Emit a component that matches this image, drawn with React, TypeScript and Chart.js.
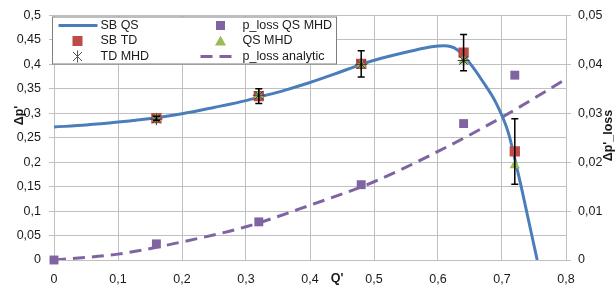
import React, { useEffect, useRef } from "react";
import { Chart, registerables } from "chart.js";

Chart.register(...registerables);

// SB QS curve (left axis)
const sbQsX = [0, 0.05, 0.1, 0.16, 0.2, 0.25, 0.3, 0.32, 0.36, 0.4, 0.44, 0.48, 0.51, 0.56, 0.59, 0.61, 0.63, 0.65, 0.67, 0.69, 0.71, 0.72, 0.73, 0.74, 0.755];
const sbQsY = [0.272, 0.276, 0.282, 0.291, 0.299, 0.312, 0.326, 0.333, 0.347, 0.363, 0.381, 0.4, 0.412, 0.428, 0.436, 0.438, 0.43, 0.402, 0.365, 0.323, 0.26, 0.207, 0.15, 0.09, 0];

// SB TD markers with error bars (left axis)
const sbTdX = [0.16, 0.32, 0.48, 0.64, 0.72];
const sbTdY = [0.29, 0.335, 0.401, 0.424, 0.222];
const sbTdErr = [0.004, 0.015, 0.027, 0.037, 0.067];

// TD MHD (left axis)
const tdMhdX = [0.16, 0.32, 0.48, 0.64];
const tdMhdY = [0.288, 0.337, 0.4, 0.408];

// QS MHD (left axis)
const qsMhdX = [0.16, 0.32, 0.48, 0.64, 0.72];
const qsMhdY = [0.29, 0.337, 0.4, 0.408, 0.194];

// p_loss QS MHD (right axis)
const pLossX = [0, 0.16, 0.32, 0.48, 0.64, 0.72];
const pLossY = [0, 0.0033, 0.0078, 0.0154, 0.0279, 0.0378];

// p_loss analytic (right axis)
const pAnaX = [0, 0.1, 0.2, 0.3, 0.4, 0.5, 0.6, 0.7, 0.8];
const pAnaY = [0, 0.0012, 0.0037, 0.0068, 0.0112, 0.016, 0.0222, 0.0292, 0.037];

const legendLabels = ["SB QS", "SB TD", "TD MHD", "p_loss QS MHD", "QS MHD", "p_loss analytic"];
const xTitle = "Q'";
const yTitle = "Δp'";
const y2Title = "Δp'_loss";

const BLUE = "#4A7EBB";
const RED = "#BE4B48";
const GREEN = "#9BBB59";
const PURPLE = "#8064A2";
const STAR = "#3a3a3a";
const GRID = "#c0c0c0";
const TEXT = "#1a1a1a";
const FAMILY = "'Liberation Sans', Arial, sans-serif";

const fmt = (v: number | string) => String(parseFloat(Number(v).toFixed(4))).replace(".", ",");
const zip = (xs: number[], ys: number[]) => xs.map((x, i) => ({ x, y: ys[i] }));

export default function App() {
  const ref = useRef<HTMLCanvasElement>(null);

  useEffect(() => {
    const canvas = ref.current;
    if (!canvas) return;

    const overlay = {
      id: "overlay",
      afterDatasetsDraw(chart: any) {
        const ctx = chart.ctx;
        const xs = chart.scales.x;
        const ys = chart.scales.y;
        ctx.save();
        ctx.strokeStyle = "#000";
        ctx.lineWidth = 1.5;
        sbTdX.forEach((xv, i) => {
          const px = xs.getPixelForValue(xv);
          const top = ys.getPixelForValue(sbTdY[i] + sbTdErr[i]);
          const bot = ys.getPixelForValue(sbTdY[i] - sbTdErr[i]);
          ctx.beginPath();
          ctx.moveTo(px, top);
          ctx.lineTo(px, bot);
          ctx.moveTo(px - 3.5, top);
          ctx.lineTo(px + 3.5, top);
          ctx.moveTo(px - 3.5, bot);
          ctx.lineTo(px + 3.5, bot);
          ctx.stroke();
        });
        ctx.restore();
      },
      afterDraw(chart: any) {
        const ctx = chart.ctx;
        const a = chart.chartArea;
        ctx.save();
        // legend box
        const bx = a.left - 1.5;
        const by = a.top + 1.5;
        ctx.fillStyle = "#fff";
        ctx.strokeStyle = "#7f7f7f";
        ctx.lineWidth = 1;
        ctx.fillRect(bx, by, 284, 47);
        ctx.strokeRect(bx, by, 284, 47);
        const rows = [by + 8.5, by + 24, by + 39.5];
        const c1 = bx + 25;
        const c2 = bx + 168;
        // SB QS line sample
        ctx.strokeStyle = BLUE;
        ctx.lineWidth = 3;
        ctx.beginPath();
        ctx.moveTo(bx + 6, rows[0]);
        ctx.lineTo(bx + 45, rows[0]);
        ctx.stroke();
        // SB TD square
        ctx.fillStyle = RED;
        ctx.fillRect(c1 - 5, rows[1] - 5, 10, 10);
        // TD MHD star
        ctx.strokeStyle = "#555";
        ctx.lineWidth = 1;
        ctx.beginPath();
        const r = 6;
        ctx.moveTo(c1, rows[2] - r);
        ctx.lineTo(c1, rows[2] + r);
        const d = r * 0.75;
        ctx.moveTo(c1 - d, rows[2] - d);
        ctx.lineTo(c1 + d, rows[2] + d);
        ctx.moveTo(c1 - d, rows[2] + d);
        ctx.lineTo(c1 + d, rows[2] - d);
        ctx.stroke();
        // p_loss QS MHD square
        ctx.fillStyle = PURPLE;
        ctx.fillRect(c2 - 4.5, rows[0] - 4.5, 9, 9);
        // QS MHD triangle
        ctx.fillStyle = GREEN;
        ctx.beginPath();
        ctx.moveTo(c2, rows[1] - 5.5);
        ctx.lineTo(c2 + 5.5, rows[1] + 4.5);
        ctx.lineTo(c2 - 5.5, rows[1] + 4.5);
        ctx.closePath();
        ctx.fill();
        // analytic dash
        ctx.strokeStyle = PURPLE;
        ctx.lineWidth = 3;
        ctx.setLineDash([12, 7]);
        ctx.beginPath();
        ctx.moveTo(c2 - 20, rows[2]);
        ctx.lineTo(c2 + 12, rows[2]);
        ctx.stroke();
        ctx.setLineDash([]);
        // legend texts
        ctx.fillStyle = TEXT;
        ctx.font = `12.5px ${FAMILY}`;
        ctx.textBaseline = "middle";
        ctx.textAlign = "left";
        ctx.fillText(legendLabels[0], bx + 48, rows[0]);
        ctx.fillText(legendLabels[1], bx + 48, rows[1]);
        ctx.fillText(legendLabels[2], bx + 48, rows[2]);
        ctx.fillText(legendLabels[3], bx + 190, rows[0]);
        ctx.fillText(legendLabels[4], bx + 190, rows[1]);
        ctx.fillText(legendLabels[5], bx + 190, rows[2]);
        // axis titles
        ctx.font = `bold 12.5px ${FAMILY}`;
        ctx.textAlign = "center";
        ctx.fillText(xTitle, a.left + 283, a.bottom + 19);
        ctx.save();
        ctx.translate(20, a.top + 100);
        ctx.rotate(-Math.PI / 2);
        ctx.fillText(yTitle, 0, 0);
        ctx.restore();
        ctx.save();
        ctx.translate(a.right + 43, a.top + 120);
        ctx.rotate(-Math.PI / 2);
        ctx.fillText(y2Title, 0, 0);
        ctx.restore();
        ctx.restore();
      },
    };

    const tickFont = { family: FAMILY, size: 12.5 };

    const chart = new Chart(canvas, {
      type: "scatter",
      data: {
        datasets: [
          {
            label: legendLabels[5],
            data: zip(pAnaX, pAnaY),
            yAxisID: "y2",
            showLine: true,
            borderColor: PURPLE,
            borderWidth: 3,
            borderDash: [12, 7],
            pointRadius: 0,
            cubicInterpolationMode: "monotone",
            order: 6,
          },
          {
            label: legendLabels[3],
            data: zip(pLossX, pLossY),
            yAxisID: "y2",
            pointStyle: "rect",
            pointRadius: 6.3,
            backgroundColor: PURPLE,
            borderColor: PURPLE,
            borderWidth: 0,
            clip: false,
            order: 5,
          },
          {
            label: legendLabels[0],
            data: zip(sbQsX, sbQsY),
            yAxisID: "y",
            showLine: true,
            borderColor: BLUE,
            borderWidth: 3,
            pointRadius: 0,
            cubicInterpolationMode: "monotone",
            order: 4,
          },
          {
            label: legendLabels[1],
            data: zip(sbTdX, sbTdY),
            yAxisID: "y",
            pointStyle: "rect",
            pointRadius: 7.3,
            backgroundColor: RED,
            borderColor: RED,
            borderWidth: 0,
            order: 3,
          },
          {
            label: legendLabels[4],
            data: zip(qsMhdX, qsMhdY),
            yAxisID: "y",
            pointStyle: "triangle",
            pointRadius: 6,
            backgroundColor: GREEN,
            borderColor: GREEN,
            borderWidth: 0,
            order: 2,
          },
          {
            label: legendLabels[2],
            data: zip(tdMhdX, tdMhdY),
            yAxisID: "y",
            pointStyle: "star",
            pointRadius: 6,
            backgroundColor: STAR,
            borderColor: STAR,
            borderWidth: 1,
            order: 1,
          },
        ],
      },
      options: {
        responsive: false,
        animation: false,
        events: [],
        layout: { padding: { top: 14, left: 0, right: 0, bottom: 0 } },
        plugins: {
          legend: { display: false },
          tooltip: { enabled: false },
          title: { display: false },
        },
        scales: {
          x: {
            type: "linear",
            min: 0,
            max: 0.8,
            ticks: { stepSize: 0.1, callback: (v: any) => fmt(v), font: tickFont, color: TEXT, padding: 7, maxRotation: 0, autoSkip: false },
            grid: { color: GRID, tickLength: 5, tickColor: "rgba(0,0,0,0)" },
            border: { color: GRID },
            afterFit: (s: any) => { s.height = 30; },
          },
          y: {
            type: "linear",
            position: "left",
            min: 0,
            max: 0.5,
            ticks: { stepSize: 0.05, callback: (v: any) => fmt(v), font: tickFont, color: TEXT, padding: 8 },
            grid: { color: GRID, tickLength: 5 },
            border: { color: GRID },
            afterFit: (s: any) => { s.width = 54; },
          },
          y2: {
            type: "linear",
            position: "right",
            min: 0,
            max: 0.05,
            ticks: { stepSize: 0.01, callback: (v: any) => fmt(v), font: tickFont, color: TEXT, padding: 7 },
            grid: { drawOnChartArea: false, color: GRID, tickLength: 5 },
            border: { color: GRID },
            afterFit: (s: any) => { s.width = 49; },
          },
        },
      },
      plugins: [overlay],
    } as any);

    return () => chart.destroy();
  }, []);

  return (
    <div style={{ position: "absolute", left: 0, top: 0, width: 615, height: 290, background: "#fff" }}>
      <canvas ref={ref} width={615} height={290} style={{ width: 615, height: 290, display: "block" }} />
    </div>
  );
}
